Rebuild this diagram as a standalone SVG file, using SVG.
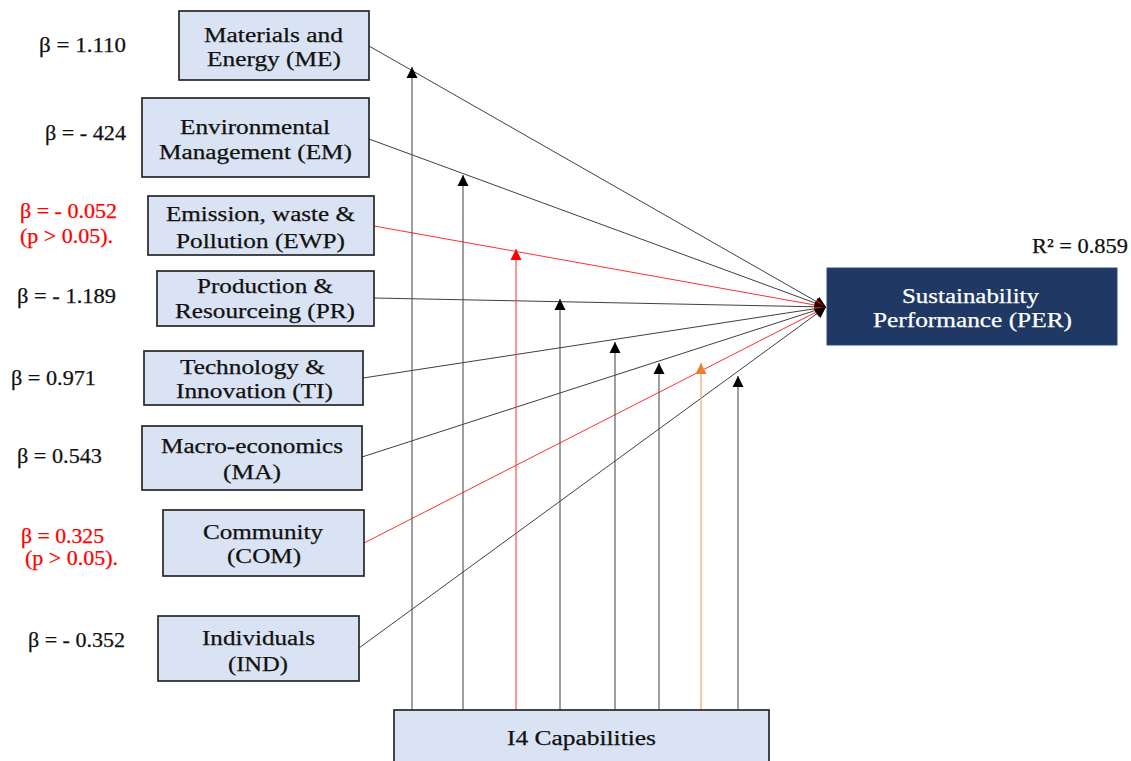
<svg xmlns="http://www.w3.org/2000/svg" width="1131" height="761" viewBox="0 0 1131 761">
  <style>
    .box { fill: #dae3f3; stroke: #262626; stroke-width: 1.7; }
    .per { fill: #203864; stroke: #2f4a7a; stroke-width: 1; }
    .t { font-family: "Liberation Serif", "Times New Roman", serif; font-size: 20.5px; fill: #111111; stroke: #111111; stroke-width: 0.25; }
    .w { fill: #ffffff; stroke: #ffffff; }
    .red { fill: #ff0000; stroke: #ff0000; }
    .c { stroke: #404040; stroke-width: 1; fill: none; }
    .cr { stroke: #ff3030; stroke-width: 1; fill: none; }
    .co { stroke: #f2a470; stroke-width: 1.2; fill: none; }
  </style>
  <defs>
    <marker id="ah" markerUnits="userSpaceOnUse" markerWidth="13" markerHeight="12" refX="11" refY="6" orient="auto">
      <path d="M0,0.5 L11,6 L0,11.5 z" fill="#000000"/>
    </marker>
    <marker id="ahRed" markerUnits="userSpaceOnUse" markerWidth="13" markerHeight="12" refX="11" refY="6" orient="auto">
      <path d="M0,0.5 L11,6 L0,11.5 z" fill="#ff0000"/>
    </marker>
    <marker id="ahOrange" markerUnits="userSpaceOnUse" markerWidth="13" markerHeight="12" refX="11" refY="6" orient="auto">
      <path d="M0,0.5 L11,6 L0,11.5 z" fill="#ed7d31"/>
    </marker>
  </defs>

  <!-- connectors -->
  <g id="connectors">
    <!-- paths into Sustainability Performance -->
    <line class="c" x1="369" y1="46" x2="826" y2="307" marker-end="url(#ah)"/>
    <line class="c" x1="369" y1="139" x2="826" y2="307" marker-end="url(#ah)"/>
    <line class="cr" x1="374" y1="226" x2="826" y2="307" marker-end="url(#ahRed)"/>
    <line class="c" x1="374" y1="298" x2="826" y2="307" marker-end="url(#ah)"/>
    <line class="c" x1="363" y1="378" x2="826" y2="307" marker-end="url(#ah)"/>
    <line class="c" x1="362" y1="457" x2="826" y2="307" marker-end="url(#ah)"/>
    <line class="cr" x1="364" y1="543" x2="826" y2="307" marker-end="url(#ahRed)"/>
    <line class="c" x1="359" y1="648" x2="826" y2="307" marker-end="url(#ah)"/>
    <!-- moderating paths from I4 Capabilities -->
    <line class="c" x1="412" y1="710" x2="412" y2="67" marker-end="url(#ah)"/>
    <line class="c" x1="463" y1="710" x2="463" y2="175" marker-end="url(#ah)"/>
    <line class="cr" x1="516" y1="710" x2="516" y2="249" marker-end="url(#ahRed)"/>
    <line class="c" x1="560" y1="710" x2="560" y2="299" marker-end="url(#ah)"/>
    <line class="c" x1="615" y1="710" x2="615" y2="342" marker-end="url(#ah)"/>
    <line class="c" x1="659" y1="710" x2="659" y2="363" marker-end="url(#ah)"/>
    <line class="co" x1="701" y1="710" x2="701" y2="363" marker-end="url(#ahOrange)"/>
    <line class="c" x1="738" y1="710" x2="738" y2="376" marker-end="url(#ah)"/>
  </g>

  <!-- coefficient labels -->
  <g id="coefficients">
    <text class="t" x="39" y="52" textLength="87" lengthAdjust="spacingAndGlyphs">β = 1.110</text>
    <text class="t" x="45" y="140" textLength="81" lengthAdjust="spacingAndGlyphs">β = - 424</text>
    <text class="t red" x="20" y="218" textLength="97" lengthAdjust="spacingAndGlyphs">β = - 0.052</text>
    <text class="t red" x="20" y="243" textLength="93" lengthAdjust="spacingAndGlyphs">(p &gt; 0.05).</text>
    <text class="t" x="17" y="303" textLength="99" lengthAdjust="spacingAndGlyphs">β = - 1.189</text>
    <text class="t" x="11" y="385" textLength="85" lengthAdjust="spacingAndGlyphs">β = 0.971</text>
    <text class="t" x="17" y="463" textLength="85" lengthAdjust="spacingAndGlyphs">β = 0.543</text>
    <text class="t red" x="21" y="543" textLength="83" lengthAdjust="spacingAndGlyphs">β = 0.325</text>
    <text class="t red" x="25" y="565" textLength="93" lengthAdjust="spacingAndGlyphs">(p &gt; 0.05).</text>
    <text class="t" x="28" y="647" textLength="97" lengthAdjust="spacingAndGlyphs">β = - 0.352</text>
    <text class="t" x="1032" y="253" textLength="96" lengthAdjust="spacingAndGlyphs">R² = 0.859</text>
  </g>

  <g id="node-me">
    <rect class="box" x="179" y="11" width="190" height="69"/>
    <text class="t" x="204" y="42" textLength="139" lengthAdjust="spacingAndGlyphs">Materials and</text>
    <text class="t" x="207" y="66" textLength="134" lengthAdjust="spacingAndGlyphs">Energy (ME)</text>
  </g>
  <g id="node-em">
    <rect class="box" x="142" y="98" width="227" height="79"/>
    <text class="t" x="180" y="134" textLength="150" lengthAdjust="spacingAndGlyphs">Environmental</text>
    <text class="t" x="159" y="159" textLength="193" lengthAdjust="spacingAndGlyphs">Management (EM)</text>
  </g>
  <g id="node-ewp">
    <rect class="box" x="148" y="196" width="226" height="59"/>
    <text class="t" x="166" y="221" textLength="189" lengthAdjust="spacingAndGlyphs">Emission, waste &amp;</text>
    <text class="t" x="176" y="248" textLength="169" lengthAdjust="spacingAndGlyphs">Pollution (EWP)</text>
  </g>
  <g id="node-pr">
    <rect class="box" x="157" y="271" width="217" height="55"/>
    <text class="t" x="197" y="293" textLength="136" lengthAdjust="spacingAndGlyphs">Production &amp;</text>
    <text class="t" x="175" y="318" textLength="180" lengthAdjust="spacingAndGlyphs">Resourceing (PR)</text>
  </g>
  <g id="node-ti">
    <rect class="box" x="144" y="351" width="219" height="54"/>
    <text class="t" x="180" y="374" textLength="145" lengthAdjust="spacingAndGlyphs">Technology &amp;</text>
    <text class="t" x="176" y="398" textLength="157" lengthAdjust="spacingAndGlyphs">Innovation (TI)</text>
  </g>
  <g id="node-ma">
    <rect class="box" x="142" y="426" width="220" height="64"/>
    <text class="t" x="161" y="453" textLength="182" lengthAdjust="spacingAndGlyphs">Macro-economics</text>
    <text class="t" x="223" y="479" textLength="58" lengthAdjust="spacingAndGlyphs">(MA)</text>
  </g>
  <g id="node-com">
    <rect class="box" x="163" y="510" width="201" height="66"/>
    <text class="t" x="203" y="539" textLength="120" lengthAdjust="spacingAndGlyphs">Community</text>
    <text class="t" x="227" y="563" textLength="74" lengthAdjust="spacingAndGlyphs">(COM)</text>
  </g>
  <g id="node-ind">
    <rect class="box" x="158" y="616" width="201" height="65"/>
    <text class="t" x="202" y="645" textLength="113" lengthAdjust="spacingAndGlyphs">Individuals</text>
    <text class="t" x="228" y="671" textLength="60" lengthAdjust="spacingAndGlyphs">(IND)</text>
  </g>
  <g id="node-i4">
    <rect class="box" x="394" y="710" width="375" height="62"/>
    <text class="t" x="507" y="745" textLength="149" lengthAdjust="spacingAndGlyphs">I4 Capabilities</text>
  </g>
  <g id="node-per">
    <rect class="per" x="827" y="268" width="290" height="77"/>
    <text class="t w" x="902" y="303" textLength="137" lengthAdjust="spacingAndGlyphs">Sustainability</text>
    <text class="t w" x="873" y="327" textLength="199" lengthAdjust="spacingAndGlyphs">Performance (PER)</text>
  </g>
</svg>
